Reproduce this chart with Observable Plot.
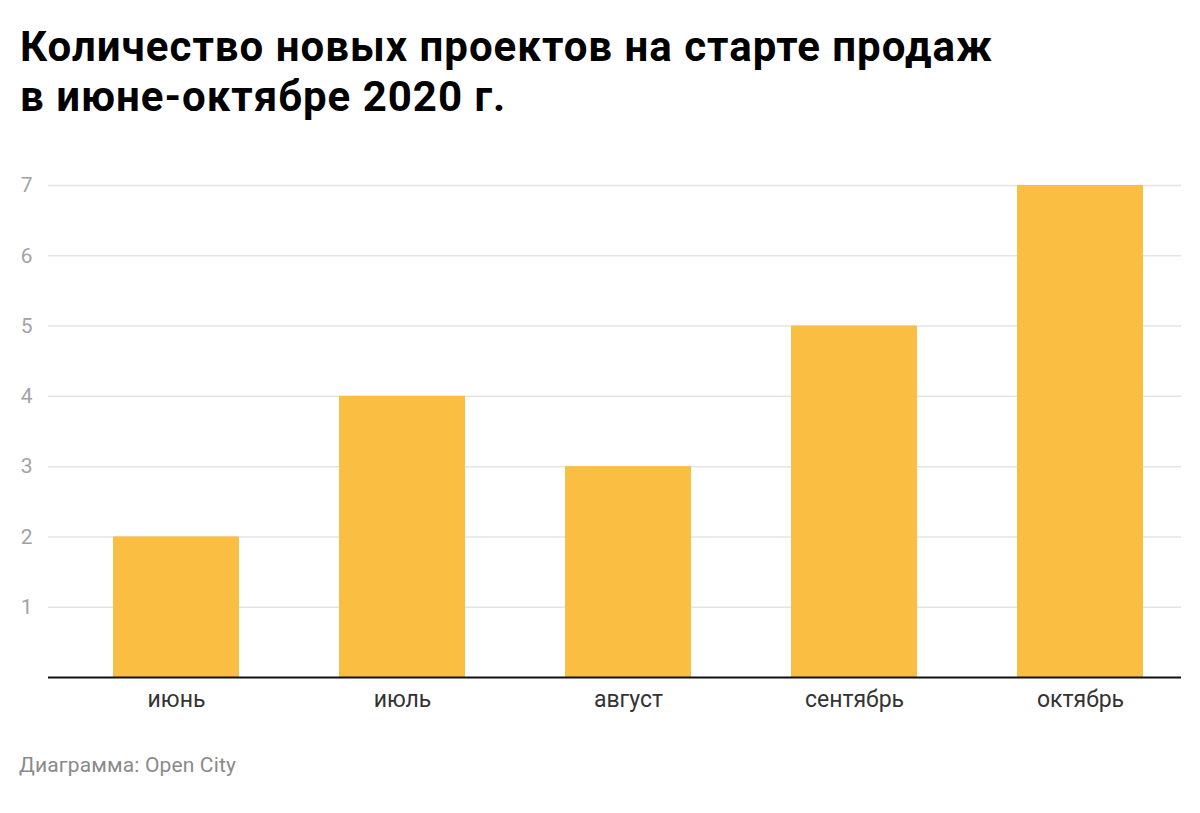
<!DOCTYPE html>
<html><head><meta charset="utf-8">
<script src="https://cdn.jsdelivr.net/npm/d3@7"></script>
<script src="https://cdn.jsdelivr.net/npm/@observablehq/plot@0.6"></script>
<style>
body{margin:0;background:#fff;font-family:Roboto,"Noto Sans",sans-serif;}
#title{box-sizing:border-box;height:140px;padding:22px 0 0 20px;font-weight:700;font-size:42px;line-height:50px;color:#000;letter-spacing:1px;}
#caption{padding:13px 0 0 19px;font-size:21px;color:#8a8a8a;letter-spacing:0.15px;}
svg{display:block;}
</style></head><body>
<div id="title">Количество новых проектов на старте продаж<br>в июне-октябре 2020 г.</div>
<div id="chart"></div>
<div id="caption">Диаграмма: Open City</div>
<script>
const months = ["июнь","июль","август","сентябрь","октябрь"];
const counts = [2,4,3,5,7];
const yTicks = [1,2,3,4,5,6,7];
const data = months.map((m,i)=>({month:m,count:counts[i]}));

const chart = Plot.plot({
  width: 1200,
  height: 600,
  marginTop: 45,
  marginBottom: 63,
  marginLeft: 48,
  marginRight: 19,
  style: {fontFamily: "Roboto, sans-serif", fontSize: "20px", background: "#fff"},
  x: {domain: months, range: [62, 1194], paddingInner: 0.443, paddingOuter: 0.2215, label: null},
  y: {domain: [0, 7], label: null},
  marks: [
    Plot.ruleY(yTicks, {stroke: "#e4e4e4", strokeWidth: 1.5}),
    Plot.barY(data, {x: "month", y: "count", fill: "#f9be42"}),
    Plot.ruleY([0], {stroke: "#111", strokeWidth: 2}),
    Plot.axisY(yTicks, {tickSize: 0, tickPadding: 16, fill: "#a3a3a3", fontSize: 21, tickFormat: d3.format("d"), label: null}),
    Plot.axisX({tickSize: 0, tickPadding: 13, fill: "#333", fontSize: 23, label: null})
  ]
});
document.getElementById("chart").append(chart);
</script>
</body></html>
